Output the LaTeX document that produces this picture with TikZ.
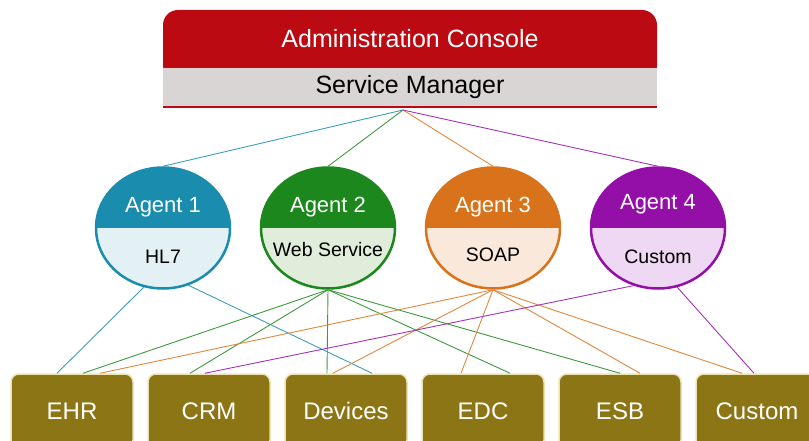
\documentclass[tikz,border=0pt]{standalone}
\usepackage{fontspec}
\setmainfont{Liberation Sans}
\usetikzlibrary{shapes.geometric}

\definecolor{consolered}{HTML}{BC0A12}
\definecolor{mgrgray}{HTML}{D9D5D5}
\definecolor{tealdark}{HTML}{1A8DAF}
\definecolor{teallight}{HTML}{E3F0F4}
\definecolor{greendark}{HTML}{1C871C}
\definecolor{greenlight}{HTML}{E0EDDA}
\definecolor{orangedark}{HTML}{D8731C}
\definecolor{orangelight}{HTML}{FAE8DA}
\definecolor{purpledark}{HTML}{940FA8}
\definecolor{purplelight}{HTML}{EED8F3}
\definecolor{systemolive}{HTML}{8C7515}
\definecolor{systemedge}{HTML}{EDE2B2}

\begin{document}
\begin{tikzpicture}[x=1pt, y=-1pt, node distance=165pt,
    agent/.style 2 args={ellipse, draw=#1, fill=#2, line width=2.5pt, inner sep=0pt,
        minimum width=134pt, minimum height=121pt,
        path picture={\fill[#1] (path picture bounding box.north west) rectangle (path picture bounding box.east);}},
    agtitle/.style={text=white, font=\fontsize{22}{26}\selectfont},
    agproto/.style={text=black, font=\fontsize{19.5}{23}\selectfont},
    system/.style={fill=systemolive, draw=systemedge, line width=1.5pt, rounded corners=8pt,
        minimum width=122pt, minimum height=74pt, inner sep=0pt, text=white,
        font=\fontsize{24}{28}\selectfont},
    link/.style={line width=0.9pt}]

    \useasboundingbox (0,0) rectangle (809,441);
    \clip (0,0) rectangle (809,441);

    %define the console on top
    \fill[consolered, rounded corners=15pt] (163,10) rectangle (657,80);
    \node[text=white, font=\fontsize{25}{30}\selectfont] (console) at (410,39) {Administration Console};
    \node[fill=mgrgray, minimum width=494pt, minimum height=39pt, inner sep=0pt,
        font=\fontsize{25}{30}\selectfont] (mgr) at (410,87.5) {Service Manager};
    \draw[consolered, line width=2pt] (mgr.south west) -- (mgr.south east);
    \coordinate (hub) at (403,110);

    %define the agents
    \node[agent={tealdark}{teallight}] (a1) at (163,228) {};
    \node[agent={greendark}{greenlight}] (a2) [right of=a1] {};
    \node[agent={orangedark}{orangelight}] (a3) [right of=a2] {};
    \node[agent={purpledark}{purplelight}] (a4) [right of=a3] {};

    \node[agtitle] (a1t) at ([yshift=21pt]a1.center) {Agent 1};
    \node[agtitle] (a2t) at ([yshift=21pt]a2.center) {Agent 2};
    \node[agtitle] (a3t) at ([yshift=21pt]a3.center) {Agent 3};
    \node[agtitle] (a4t) at ([yshift=24pt]a4.center) {Agent 4};
    \node[agproto] (a1p) at ([yshift=-29pt]a1.center) {HL7};
    \node[agproto] (a2p) at ([yshift=-22pt]a2.center) {Web Service};
    \node[agproto] (a3p) at ([yshift=-27pt]a3.center) {SOAP};
    \node[agproto] (a4p) at ([yshift=-29pt]a4.center) {Custom};

    %define the systems
    \begin{scope}[node distance=137pt]
    \node[system] (ehr) at (72,411) {EHR};
    \node[system] (crm) [right of=ehr] {CRM};
    \node[system] (dev) [right of=crm] {Devices};
    \node[system] (edc) [right of=dev] {EDC};
    \node[system] (esb) [right of=edc] {ESB};
    \node[system] (cst) [right of=esb] {Custom};
    \end{scope}

    %define the links
    \path[link, draw=tealdark!85] (hub) edge (a1.north)
    (a1.252) edge ([xshift=-15pt]ehr.north)
    (a1.294) edge ([xshift=26pt]dev.north);
    \path[link, draw=greendark!85] (hub) edge (a2.north)
    (a2.south) edge ([xshift=11pt]ehr.north)
    edge ([xshift=-19pt]crm.north)
    edge ([xshift=-19pt]dev.north)
    edge ([xshift=27pt]edc.north)
    edge (esb.north);
    \path[link, draw=orangedark!85] (hub) edge (a3.north)
    (a3.south) edge ([xshift=28pt]ehr.north)
    edge ([xshift=-13pt]dev.north)
    edge ([xshift=-22pt]edc.north)
    edge ([xshift=20pt]esb.north)
    edge ([xshift=-15pt]cst.north);
    \path[link, draw=purpledark!85] (hub) edge (a4.north)
    (a4.247) edge ([xshift=-4pt]crm.north)
    (a4.288) edge ([xshift=-3pt]cst.north);
\end{tikzpicture}
\end{document}
